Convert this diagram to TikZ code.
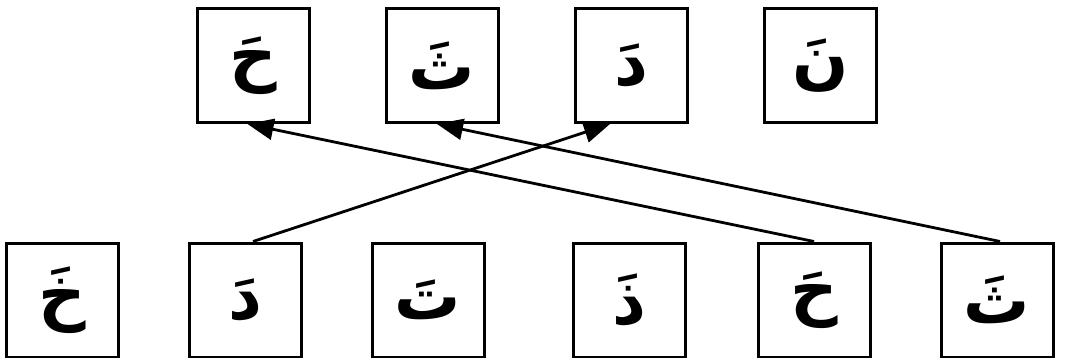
\documentclass[tikz,border=0pt]{standalone}
\usepackage{fontspec}
\newfontfamily\arabicfont[Script=Arabic]{DejaVu Sans}
\TeXXeTstate=1
\usetikzlibrary{arrows.meta}
\begin{document}
\begin{tikzpicture}[x=1pt,y=1pt,
  letterbox/.style={draw,line width=3pt,minimum width=112pt,minimum height=114pt,inner sep=0pt,font=\fontsize{66}{66}\selectfont\arabicfont\bfseries},
  link/.style={line width=2.8pt,-{Triangle[length=26pt,width=21pt]}}]
\useasboundingbox (0,0) rectangle (1065,-358);
% top row
\node[letterbox] (t1) at (253.5,-65.5) {\beginR حَ\endR};
\node[letterbox] (t2) at (442,-65.5) {\beginR ثَ\endR};
\node[letterbox] (t3) at (631,-65.5) {\beginR دَ\endR};
\node[letterbox] (t4) at (820.5,-65.5) {\beginR نَ\endR};
% bottom row
\node[letterbox] (b1) at (62.5,-300) {\beginR خَ\endR};
\node[letterbox] (b2) at (245.5,-300) {\beginR دَ\endR};
\node[letterbox] (b3) at (428,-300) {\beginR تَ\endR};
\node[letterbox] (b4) at (629,-300) {\beginR ذَ\endR};
\node[letterbox] (b5) at (814,-300) {\beginR حَ\endR};
\node[letterbox] (b6) at (997,-300) {\beginR ثَ\endR};
% connectors
\draw[link] ([xshift=7.5pt]b2.north) -- ([xshift=-21pt]t3.south);
\draw[link] (b5.north) -- ([xshift=-6pt]t1.south);
\draw[link] ([xshift=3pt]b6.north) -- ([xshift=-5pt]t2.south);
\end{tikzpicture}
\end{document}
